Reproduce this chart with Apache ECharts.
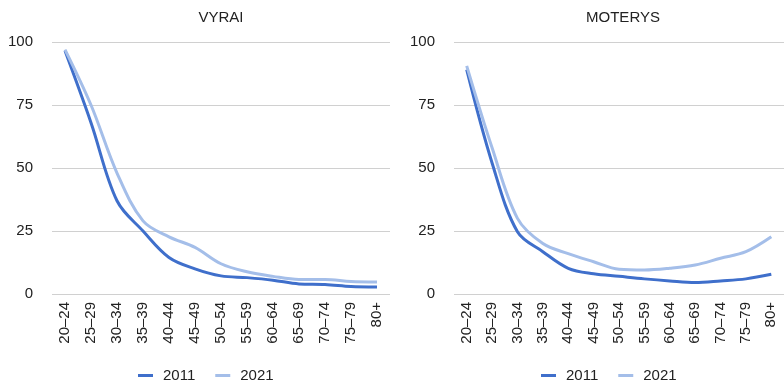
<!DOCTYPE html>
<html>
<head>
<meta charset="utf-8">
<script src="https://cdn.jsdelivr.net/npm/echarts@6/dist/echarts.min.js"></script>
<style>
  html, body { margin: 0; padding: 0; background: #fff; }
  #chart { width: 784px; height: 384px; }
</style>
</head>
<body>
<div id="chart"></div>
<script>
// amziaus grupes
var ageGroups = ['20–24', '25–29', '30–34', '35–39', '40–44', '45–49', '50–54',
                 '55–59', '60–64', '65–69', '70–74', '75–79', '80+'];
var yTicks = [0, 25, 50, 75, 100];

// vyrai
var men2011 = [96.5, 68, 37, 25, 14.5, 10, 7.2, 6.5, 5.5, 4, 3.8, 3, 2.8];
var men2021 = [97, 75, 48, 29, 22.7, 18.5, 12, 8.8, 7, 5.8, 5.8, 5, 4.8];

// moterys
var women2011 = [89, 52, 24.7, 16.8, 10.2, 8, 7, 6, 5.2, 4.6, 5.2, 6, 7.8];
var women2021 = [90.5, 58, 30, 20, 16, 12.8, 9.8, 9.5, 10.2, 11.5, 14.2, 16.8, 22.7];

var darkBlue = '#3f6fcb';
var lightBlue = '#a4bee9';
var font = 'Liberation Sans, Arial, sans-serif';

var myChart = echarts.init(document.getElementById('chart'));

function xAxisFor(idx) {
    return {
        type: 'category',
        gridIndex: idx,
        data: ageGroups,
        boundaryGap: true,
        axisLine: { show: false },
        axisTick: { show: false },
        axisLabel: {
            rotate: 90,
            interval: 0,
            margin: 8,
            color: '#222',
            fontSize: 15,
            fontFamily: font
        }
    };
}

function yAxisFor(idx) {
    return {
        type: 'value',
        gridIndex: idx,
        min: yTicks[0],
        max: yTicks[yTicks.length - 1],
        interval: 25,
        axisLine: { show: false },
        axisTick: { show: false },
        splitLine: { lineStyle: { color: '#d0d0d0', width: 1 } },
        axisLabel: { margin: 19, color: '#222', fontSize: 15, fontFamily: font }
    };
}

function lineSeries(name, data, idx, color, width) {
    return {
        name: name,
        type: 'line',
        xAxisIndex: idx,
        yAxisIndex: idx,
        data: data,
        smooth: 0.35,
        showSymbol: false,
        symbol: 'none',
        lineStyle: { color: color, width: width },
        itemStyle: { color: color }
    };
}

function legendFor(left) {
    return {
        left: left,
        top: 368,
        padding: 0,
        icon: 'rect',
        itemWidth: 15,
        itemHeight: 3,
        itemGap: 20,
        textStyle: { color: '#222', fontSize: 15, fontFamily: font, padding: [0, 0, 0, 5] },
        data: ['2011', '2021']
    };
}

var option = {
    animation: false,
    title: [
        { text: 'VYRAI', left: 221, top: 10, padding: 0, textAlign: 'center',
          textStyle: { fontSize: 15, fontWeight: 'normal', color: '#222', fontFamily: font } },
        { text: 'MOTERYS', left: 623, top: 10, padding: 0, textAlign: 'center',
          textStyle: { fontSize: 15, fontWeight: 'normal', color: '#222', fontFamily: font } }
    ],
    legend: [legendFor(138), legendFor(541)],
    grid: [
        { left: 52, top: 42, width: 338, height: 252 },
        { left: 454, top: 42, width: 338, height: 252 }
    ],
    xAxis: [xAxisFor(0), xAxisFor(1)],
    yAxis: [yAxisFor(0), yAxisFor(1)],
    series: [
        lineSeries('2011', men2011, 0, darkBlue, 3),
        lineSeries('2021', men2021, 0, lightBlue, 3),
        lineSeries('2011', women2011, 1, darkBlue, 3),
        lineSeries('2021', women2021, 1, lightBlue, 3)
    ]
};

myChart.setOption(option);
</script>
</body>
</html>
